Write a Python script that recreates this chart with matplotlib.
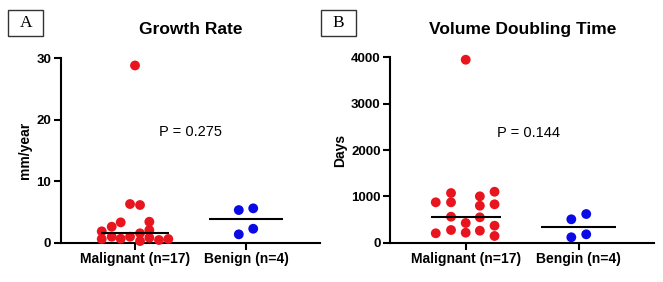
import numpy as np
import matplotlib.pyplot as plt
from matplotlib.patches import Rectangle

# Panel A: growth rate (mm/year)
growth_malignant = [28.8, 6.26, 6.1, 2.57, 3.28, 3.38, 1.82, 2.03, 1.5,
                    0.57, 0.94, 0.62, 0.94, 0.24, 0.78, 0.41, 0.57]
growth_malignant_x = [0.0, -0.045, 0.045, -0.21, -0.129, 0.129, -0.30, 0.129, 0.045,
                      -0.30, -0.21, -0.129, -0.045, 0.045, 0.129, 0.216, 0.30]
growth_benign = [5.28, 5.56, 1.33, 2.24]
growth_benign_x = [-0.065, 0.065, -0.065, 0.065]

# Panel B: volume doubling time (days)
vdt_malignant = [3950, 872, 1072, 872, 1001, 798, 1100, 829, 561,
                 548, 425, 203, 274, 216, 259, 367, 145]
vdt_malignant_x = [0.0, -0.265, -0.13, -0.13, 0.125, 0.125, 0.255, 0.255, -0.13,
                   0.125, 0.0, -0.265, -0.13, 0.0, 0.125, 0.255, 0.255]
vdt_benign = [505, 619, 117, 181]
vdt_benign_x = [-0.066, 0.066, -0.066, 0.066]

RED = "#E8141E"
BLUE = "#0A0AE6"

plt.rcParams["font.family"] = ["Liberation Sans", "DejaVu Sans"]

fig = plt.figure(figsize=(6.63, 2.82), dpi=100)
axA = fig.add_axes([0.092, 0.140, 0.3907, 0.654])
axB = fig.add_axes([0.5887, 0.1394, 0.398, 0.657])


def draw_panel(ax, mal, mal_x, ben, ben_x, ymax, yticks, xlabels, ylabel, title, ptext, pxy):
    ax.scatter(mal_x, mal, s=50, color=RED, edgecolors="none", zorder=3, clip_on=False)
    ax.scatter(1 + np.array(ben_x), ben, s=50, color=BLUE, edgecolors="none", zorder=3, clip_on=False)
    ax.hlines(np.median(mal), -0.31, 0.31, color="black", lw=1.5, zorder=4)
    ax.hlines(np.median(ben), 1 - 0.33, 1 + 0.33, color="black", lw=1.5, zorder=4)
    ax.set_xlim(-0.667, 1.667)
    ax.set_ylim(0, ymax)
    ax.set_yticks(yticks)
    ax.set_xticks([0, 1])
    ax.set_xticklabels(xlabels, fontsize=10, fontweight="bold")
    for lab in ax.get_yticklabels():
        lab.set_fontsize(9.5)
        lab.set_fontweight("bold")
    ax.spines["top"].set_visible(False)
    ax.spines["right"].set_visible(False)
    ax.spines["left"].set_linewidth(1.5)
    ax.spines["bottom"].set_linewidth(1.5)
    ax.tick_params(axis="both", direction="out", length=5, width=1.5, pad=2)
    ax.set_ylabel(ylabel, fontsize=10, fontweight="bold", labelpad=3)
    ax.set_title(title, fontsize=12.5, fontweight="bold", pad=17)
    ax.text(pxy[0], pxy[1], ptext, fontsize=10.5, ha="center", va="center")


draw_panel(axA, growth_malignant, growth_malignant_x, growth_benign, growth_benign_x,
           30, [0, 10, 20, 30], ["Malignant (n=17)", "Benign (n=4)"], "mm/year",
           "Growth Rate", "P = 0.275", (0.5, 18.0))
draw_panel(axB, vdt_malignant, vdt_malignant_x, vdt_benign, vdt_benign_x,
           4000, [0, 1000, 2000, 3000, 4000], ["Malignant (n=17)", "Bengin (n=4)"], "Days",
           "Volume Doubling Time", "P = 0.144", (0.553, 2374))

# panel letters in boxes
W, H = 663, 282
for letter, x0 in [("A", 8.3), ("B", 320.7)]:
    fig.patches.append(Rectangle((x0 / W, 1 - 35.5 / H), 35 / W, 25.5 / H,
                                 transform=fig.transFigure, fill=False,
                                 edgecolor="#333333", lw=1.0))
    fig.text((x0 + 17.5) / W, 1 - 23 / H, letter, fontsize=12.5,
             family="Liberation Serif", ha="center", va="center")

fig.savefig("out.png", dpi=100)
